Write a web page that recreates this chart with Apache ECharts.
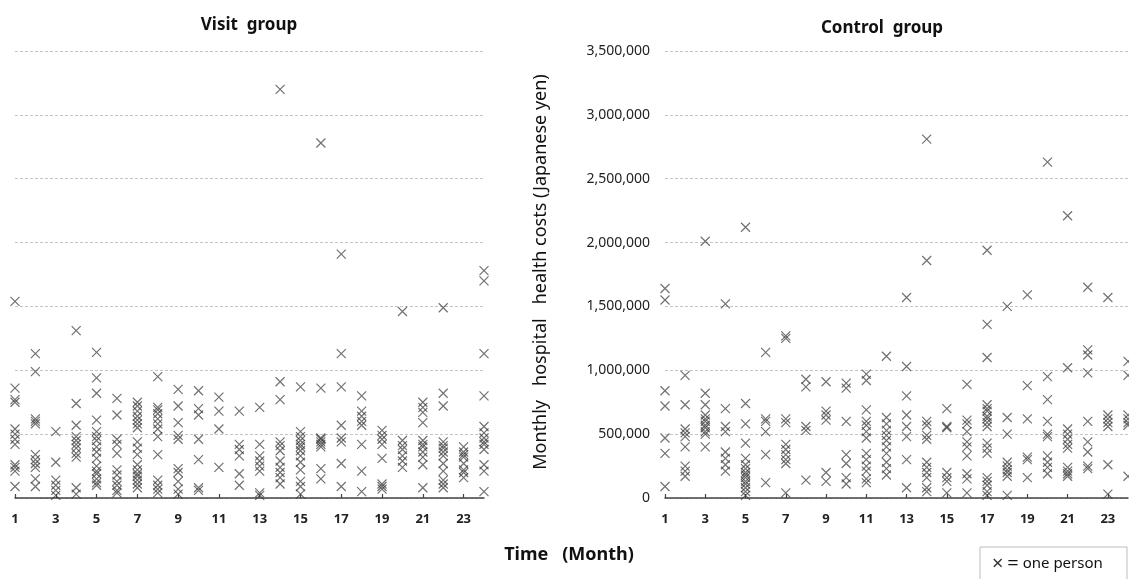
<!DOCTYPE html>
<html>
<head>
<meta charset="utf-8">
<script src="https://cdn.jsdelivr.net/npm/echarts@6/dist/echarts.min.js"></script>
<style>html,body{margin:0;padding:0;background:#fff}#c{width:1129px;height:579px}</style>
</head>
<body>
<div id="c"></div>
<script>
const months = ['1','2','3','4','5','6','7','8','9','10','11','12','13','14','15','16','17','18','19','20','21','22','23','24'];
const yTicks = [0, 500000, 1000000, 1500000, 2000000, 2500000, 3000000, 3500000];

// Visit group: one array of costs per month (each value = one person)
const visitGroup = [
  [1540000, 860000, 770000, 750000, 540000, 500000, 460000, 420000, 260000, 240000, 210000, 90000],
  [1130000, 990000, 620000, 600000, 580000, 340000, 300000, 270000, 240000, 150000, 90000],
  [520000, 280000, 140000, 100000, 60000, 20000],
  [1310000, 740000, 570000, 480000, 450000, 420000, 390000, 350000, 320000, 80000, 30000],
  [1140000, 940000, 820000, 610000, 520000, 480000, 450000, 400000, 360000, 310000, 250000, 210000, 190000, 150000, 120000, 100000],
  [780000, 650000, 460000, 420000, 350000, 220000, 180000, 130000, 100000, 60000, 40000],
  [750000, 720000, 680000, 640000, 610000, 580000, 550000, 440000, 390000, 340000, 260000, 220000, 190000, 170000, 140000, 110000, 80000],
  [950000, 710000, 690000, 660000, 620000, 580000, 540000, 480000, 340000, 140000, 100000, 70000, 40000],
  [850000, 720000, 590000, 490000, 460000, 230000, 200000, 130000, 70000, 30000],
  [840000, 700000, 650000, 460000, 300000, 80000, 60000],
  [790000, 680000, 540000, 240000],
  [680000, 420000, 380000, 330000, 190000, 100000],
  [710000, 420000, 330000, 290000, 250000, 210000, 40000, 20000],
  [3200000, 910000, 770000, 440000, 410000, 370000, 290000, 240000, 200000, 160000, 110000],
  [870000, 520000, 480000, 450000, 420000, 400000, 370000, 330000, 280000, 220000, 130000, 90000, 30000],
  [2780000, 860000, 470000, 460000, 440000, 420000, 400000, 230000, 150000],
  [1910000, 1130000, 870000, 570000, 470000, 440000, 270000, 90000],
  [800000, 680000, 640000, 600000, 570000, 420000, 210000, 50000],
  [530000, 490000, 460000, 420000, 310000, 110000, 90000, 70000],
  [1460000, 450000, 410000, 380000, 330000, 290000, 240000],
  [750000, 710000, 670000, 590000, 450000, 420000, 400000, 360000, 320000, 260000, 80000],
  [1490000, 820000, 720000, 440000, 410000, 390000, 360000, 330000, 270000, 210000, 140000, 110000, 80000],
  [400000, 360000, 340000, 320000, 270000, 220000, 200000, 160000],
  [1780000, 1700000, 1130000, 800000, 560000, 510000, 470000, 440000, 420000, 380000, 260000, 210000, 50000]
];

// Control group
const controlGroup = [
  [1640000, 1550000, 840000, 720000, 470000, 350000, 90000],
  [960000, 730000, 540000, 510000, 480000, 400000, 250000, 210000, 170000],
  [2010000, 820000, 730000, 650000, 620000, 600000, 570000, 550000, 520000, 500000, 400000],
  [1520000, 700000, 560000, 520000, 360000, 310000, 260000, 210000],
  [2120000, 740000, 580000, 430000, 310000, 260000, 230000, 200000, 180000, 160000, 130000, 110000, 80000, 50000, 20000],
  [1140000, 620000, 600000, 520000, 340000, 120000],
  [1270000, 1250000, 620000, 590000, 420000, 380000, 340000, 300000, 270000, 40000],
  [930000, 870000, 560000, 530000, 140000],
  [910000, 680000, 650000, 610000, 200000, 130000],
  [900000, 860000, 600000, 340000, 270000, 160000, 110000],
  [970000, 920000, 690000, 600000, 570000, 520000, 470000, 350000, 300000, 250000, 210000, 150000, 120000],
  [1110000, 630000, 580000, 530000, 490000, 450000, 400000, 350000, 280000, 230000, 180000],
  [1570000, 1030000, 800000, 650000, 560000, 480000, 300000, 80000],
  [2810000, 1860000, 600000, 570000, 490000, 460000, 280000, 240000, 200000, 160000, 80000, 50000],
  [700000, 560000, 550000, 200000, 160000, 130000, 40000],
  [890000, 610000, 580000, 520000, 440000, 400000, 330000, 190000, 150000, 40000],
  [1940000, 1360000, 1100000, 730000, 700000, 680000, 640000, 620000, 590000, 560000, 430000, 390000, 350000, 160000, 130000, 100000, 50000, 20000],
  [1500000, 630000, 500000, 280000, 250000, 220000, 200000, 170000, 20000],
  [1590000, 880000, 620000, 320000, 300000, 160000],
  [2630000, 950000, 770000, 600000, 500000, 480000, 330000, 280000, 240000, 190000],
  [2210000, 1020000, 540000, 500000, 460000, 420000, 390000, 240000, 210000, 190000, 170000],
  [1650000, 1160000, 1120000, 980000, 600000, 440000, 360000, 250000, 230000],
  [1570000, 650000, 620000, 590000, 560000, 260000, 30000],
  [1070000, 960000, 650000, 620000, 590000, 570000, 170000]
];

function toPoints(group) {
  const pts = [];
  group.forEach((vals, i) => vals.forEach(v => pts.push([months[i], v])));
  return pts;
}

const FONT = 'Noto Sans';
const crossSymbol = 'path://M0,0L10,10M10,0L0,10';

function xAxis(gridIndex) {
  return {
    type: 'category', gridIndex, data: months, boundaryGap: false,
    axisLine: { show: true, lineStyle: { color: '#444', width: 1.5 } },
    axisTick: { show: true, inside: true, length: 4, interval: 1, lineStyle: { color: '#444', width: 1.2 } },
    axisLabel: { interval: 1, margin: 15, fontFamily: FONT, fontSize: 13, fontWeight: 'bold', color: '#222' },
    splitLine: { show: false }
  };
}
function yAxis(gridIndex, showLabels) {
  return {
    type: 'value', gridIndex, min: yTicks[0], max: yTicks[yTicks.length - 1], interval: 500000,
    axisLine: { show: false }, axisTick: { show: false },
    axisLabel: {
      show: showLabels, margin: 15, fontFamily: FONT, fontSize: 14, color: '#222',
      formatter: v => v.toLocaleString('en-US')
    },
    splitLine: { show: true, lineStyle: { color: '#c4c4c4', type: [3, 2], width: 1 } }
  };
}
function scatter(idx, group) {
  return {
    type: 'scatter', xAxisIndex: idx, yAxisIndex: idx, data: toPoints(group),
    symbol: crossSymbol, symbolSize: 9,
    itemStyle: { color: 'rgba(0,0,0,0)', borderColor: '#3a3a3a', borderWidth: 1.2, opacity: 0.72 },
    emphasis: { disabled: true }, silent: true
  };
}

const chart = echarts.init(document.getElementById('c'), null, { renderer: 'canvas' });
chart.setOption({
  animation: false,
  backgroundColor: '#fff',
  title: [
    { text: 'Visit  group', left: 244, top: 12, textAlign: 'center',
      textStyle: { fontFamily: FONT, fontSize: 17, fontWeight: 'bold', color: '#111' } },
    { text: 'Control  group', left: 877, top: 15, textAlign: 'center',
      textStyle: { fontFamily: FONT, fontSize: 17, fontWeight: 'bold', color: '#111' } }
  ],
  grid: [
    { left: 15, top: 51, width: 469, height: 447 },
    { left: 665, top: 51, width: 463, height: 447 }
  ],
  xAxis: [xAxis(0), xAxis(1)],
  yAxis: [yAxis(0, false), yAxis(1, true)],
  series: [scatter(0, visitGroup), scatter(1, controlGroup)],
  graphic: [
    { type: 'text', x: 541, y: 272, rotation: Math.PI / 2,
      style: { text: 'Monthly   hospital   health costs (Japanese yen)', fontFamily: FONT, fontSize: 18,
        fill: '#111', align: 'center', verticalAlign: 'middle' } },
    { type: 'text', x: 569, y: 555,
      style: { text: 'Time   (Month)', fontFamily: FONT, fontSize: 18, fontWeight: 'bold', fill: '#111', align: 'center', verticalAlign: 'middle' } },
    { type: 'rect', shape: { x: 980, y: 547, width: 147, height: 45 },
      style: { fill: '#fff', stroke: '#bdbdbd', lineWidth: 1 } },
    { type: 'text', x: 992, y: 564,
      style: { text: '{x|×} {e|=} one person', verticalAlign: 'middle', fontFamily: FONT, fontSize: 15, fill: '#111',
        rich: { x: { fontSize: 20, fill: '#333', fontFamily: FONT }, e: { fontSize: 20, fill: '#111', fontFamily: FONT } } } }
  ]
});
</script>
</body>
</html>
